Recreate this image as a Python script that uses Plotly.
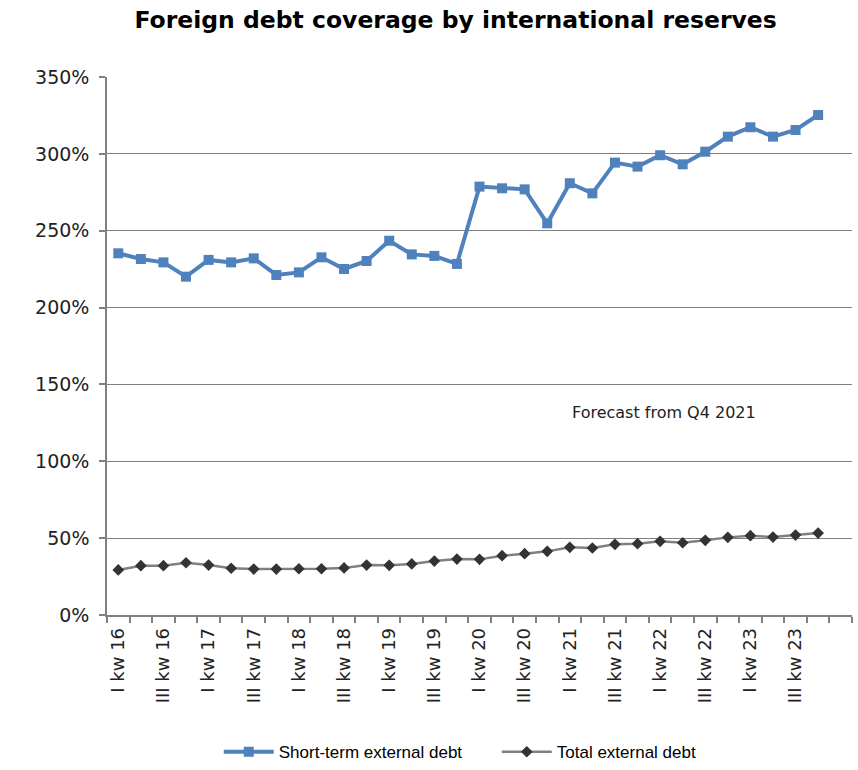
import plotly.graph_objects as go

quarters = []
for yr in range(16, 24):
    for q in ["I", "II", "III", "IV"]:
        quarters.append(f"{q} kw {yr}")

short_term = [235.3, 231.6, 229.4, 220.1, 231.0, 229.4, 232.0, 221.2,
              222.9, 232.7, 225.1, 230.3, 243.5, 234.6, 233.6, 228.4,
              278.7, 277.6, 276.9, 254.8, 280.9, 274.3, 294.3, 291.7,
              299.1, 293.2, 301.4, 311.2, 317.3, 311.2, 315.5, 325.3]
total = [29.3, 32.1, 32.1, 34.0, 32.5, 30.4, 29.9, 29.9,
         30.1, 30.1, 30.6, 32.5, 32.3, 33.2, 35.1, 36.4,
         36.2, 38.6, 39.9, 41.4, 44.0, 43.6, 46.0, 46.4,
         47.9, 47.0, 48.6, 50.5, 51.6, 50.7, 52.0, 53.3]

n_slots = len(quarters) + 1  # axis has one empty slot at the end
xs = list(range(len(quarters)))
label_idx = [i for i in xs if i % 2 == 0]
label_txt = [quarters[i] for i in label_idx]
boundaries = [i - 0.5 for i in range(n_slots + 1)]

fig = go.Figure()
fig.add_trace(go.Scatter(
    x=xs, y=short_term, name="Short-term external debt",
    mode="lines+markers",
    line=dict(color="#4F81BD", width=4),
    marker=dict(symbol="square", size=10, color="#4F81BD"),
))
fig.add_trace(go.Scatter(
    x=xs, y=total, name="Total external debt",
    mode="lines+markers",
    line=dict(color="#808080", width=2.5),
    marker=dict(symbol="diamond", size=9, color="#333333"),
))

fig.update_layout(
    width=858, height=770,
    margin=dict(l=107, r=6, t=77, b=155, autoexpand=False),
    plot_bgcolor="white", paper_bgcolor="white",
    title=dict(text="<b>Foreign debt coverage by international reserves</b>",
               x=0.531, xanchor="center", y=0.974, yanchor="middle",
               font=dict(family="DejaVu Sans", size=23.5, color="black")),
    font=dict(family="DejaVu Sans", color="#222222"),
    showlegend=True,
    legend=dict(orientation="h", x=0.150, xanchor="left", y=-0.255, yanchor="middle",
                font=dict(family="Liberation Sans", size=17, color="black"),
                itemwidth=50, tracegroupgap=0, entrywidth=213),
    annotations=[dict(text="Forecast from Q4 2021", x=0.748, y=0.376,
                      xref="paper", yref="paper", xanchor="center", yanchor="middle",
                      showarrow=False, font=dict(family="DejaVu Sans", size=16, color="#222222"))],
)

fig.update_xaxes(
    range=[-0.5, n_slots - 0.5],
    tickmode="array", tickvals=label_idx, ticktext=label_txt,
    tickangle=-90, ticks="", ticklen=0,
    tickfont=dict(family="DejaVu Sans", size=18, color="#222222"),
    ticklabelstandoff=4, automargin=False,
    showgrid=False, zeroline=False,
    showline=True, linecolor="#808080", linewidth=1.5,
    minor=dict(tickmode="array", tickvals=boundaries, ticks="outside",
               ticklen=6, tickcolor="#808080", tickwidth=1.5, showgrid=False),
)
fig.update_yaxes(
    range=[0, 350], tickmode="array", tickvals=[0, 50, 100, 150, 200, 250, 300, 350],
    ticktext=["0%", "50%", "100%", "150%", "200%", "250%", "300%", "350%"],
    ticks="outside", ticklen=6, tickcolor="#808080", tickwidth=1.5,
    tickfont=dict(family="DejaVu Sans", size=19, color="#222222"),
    ticklabelstandoff=6, automargin=False,
    showgrid=True, gridcolor="#7f7f7f", gridwidth=1.2,
    zeroline=False,
    showline=True, linecolor="#808080", linewidth=1.5,
)

fig.write_html("out.html")
